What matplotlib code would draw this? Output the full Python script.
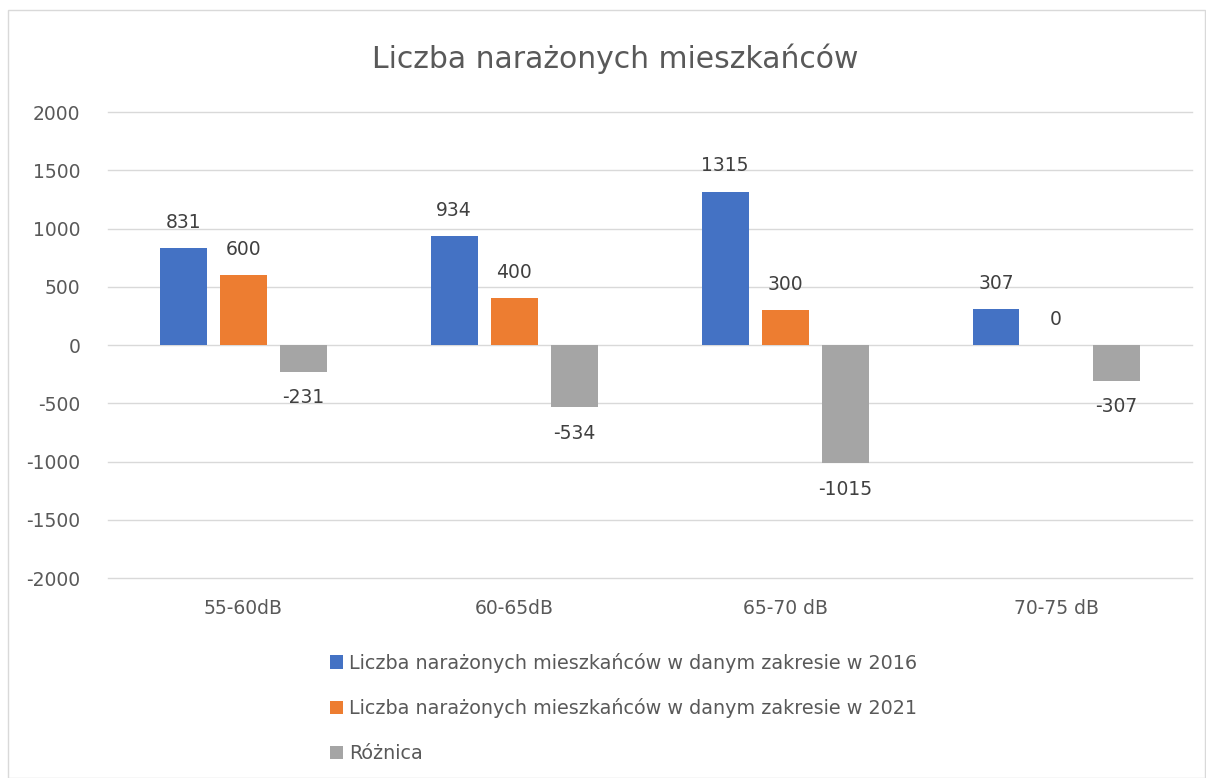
import numpy as np
import matplotlib.pyplot as plt
from matplotlib.patches import Rectangle

categories = ["55-60dB", "60-65dB", "65-70 dB", "70-75 dB"]
v2016 = [831, 934, 1315, 307]
v2021 = [600, 400, 300, 0]
diff = [-231, -534, -1015, -307]
labels = ["Liczba narażonych mieszkańców w danym zakresie w 2016",
          "Liczba narażonych mieszkańców w danym zakresie w 2021",
          "Różnica"]
colors = ["#4472C4", "#ED7D31", "#A5A5A5"]
txt = "#595959"

fig = plt.figure(figsize=(12.06, 7.78), dpi=100)
fig.patches.append(Rectangle((0.007, 0.0), 0.992, 0.987, transform=fig.transFigure,
                             fill=False, edgecolor="#D9D9D9", lw=1))
ax = fig.add_axes([0.0896, 0.257, 0.8984, 0.599])

x = np.arange(len(categories))
w = 0.173
off = 0.222
series = [v2016, v2021, diff]
for i, (vals, c, lab) in enumerate(zip(series, colors, labels)):
    pos = x + (i - 1) * off
    ax.bar(pos, vals, w, color=c, label=lab, zorder=3)
    for p, v in zip(pos, vals):
        dy = 18.7 if v >= 0 else -18.7
        ax.annotate(str(v), (p, v), xytext=(0, dy), textcoords="offset points",
                    ha="center", va="center", fontsize=13.5, color="#404040")

ax.set_ylim(-2000, 2000)
ax.set_xlim(-0.5, 3.5)
ax.set_yticks(np.arange(-2000, 2001, 500))
ax.set_yticklabels([str(t) for t in range(-2000, 2001, 500)])
ax.set_xticks(x)
ax.set_xticklabels(categories)
ax.yaxis.grid(True, color="#D9D9D9", lw=1, zorder=0)
for gl in ax.get_ygridlines():
    gl.set_clip_on(False)
for s in ax.spines.values():
    s.set_visible(False)
ax.tick_params(axis="both", length=0, labelsize=13.5, colors=txt)
ax.tick_params(axis="x", pad=15)
ax.tick_params(axis="y", pad=20)

fig.text(0.51, 0.925, "Liczba narażonych mieszkańców", ha="center", va="center",
         fontsize=21.5, color=txt)

fig.legend(loc="upper left", bbox_to_anchor=(0.267, 0.171), frameon=False,
           fontsize=13.8, labelcolor=txt, handlelength=0.7, handleheight=0.7,
           handletextpad=0.3, labelspacing=1.34, borderaxespad=0)

fig.savefig("out.png", dpi=100)
